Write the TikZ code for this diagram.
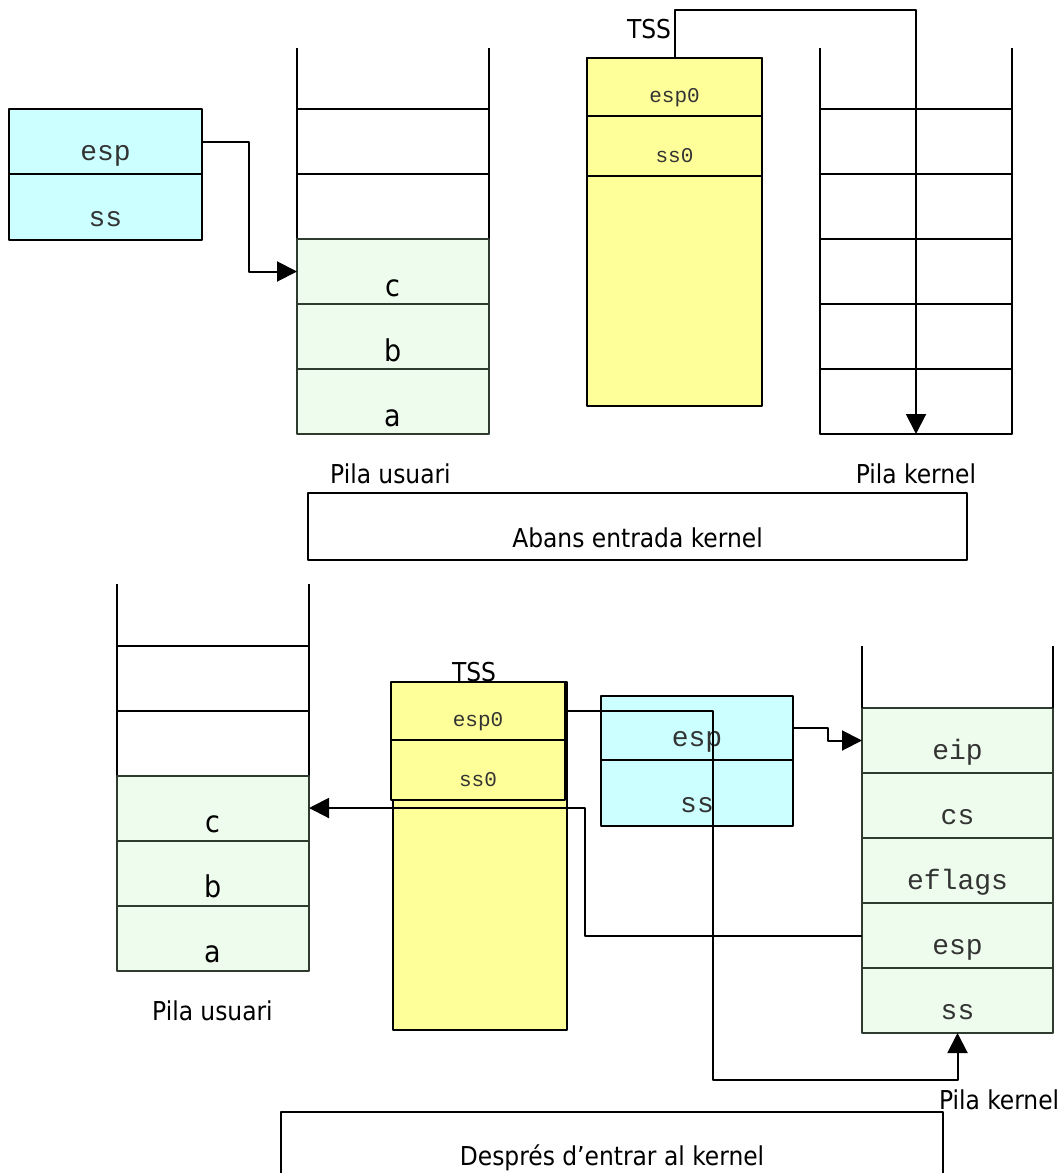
\documentclass[tikz,border=0pt]{standalone}
\usepackage{fontspec}
\setmainfont{DejaVu Sans Condensed}
\setmonofont{Liberation Mono}
\usetikzlibrary{arrows.meta}
\definecolor{regblue}{HTML}{CCFFFF}
\definecolor{tssyellow}{HTML}{FFFF99}
\definecolor{stackgreen}{HTML}{EDFCED}
\definecolor{greenline}{HTML}{2E3B2E}
\definecolor{monotext}{HTML}{333333}

\begin{document}
\begin{tikzpicture}[x=1pt,y=-1pt,line join=round,
	>={Triangle[length=20pt,width=20pt]},
	every node/.style={inner sep=0pt,outer sep=0pt},
	big/.style={font=\fontsize{30}{34}\selectfont},
	lbl/.style={font=\fontsize{26}{30}\selectfont},
	mono/.style={font=\fontsize{28}{32}\selectfont\ttfamily,text=monotext},
	small/.style={font=\fontsize{21}{24}\selectfont\ttfamily,text=monotext},
	cell/.style={draw,line width=2pt,minimum width=192pt,minimum height=65pt},
	ucell/.style={cell,fill=stackgreen,draw=greenline},
	reg/.style={cell,fill=regblue},
	tcell/.style={cell,fill=tssyellow,minimum width=174pt,minimum height=58pt},
	tall/.style={draw,line width=2pt,fill=tssyellow,minimum width=174pt,minimum height=348pt},
	frame/.style={draw,line width=2pt,minimum height=67pt},
	ltxt/.style={label={[anchor=base,yshift=8pt,big]south:#1}},
	mtxt/.style={label={[anchor=base,yshift=14pt,mono]south:#1}},
	stxt/.style={label={[anchor=base,yshift=14pt,small]south:#1}},
	wire/.style={line width=2pt},
	conn/.style={wire,->}]
	\useasboundingbox (0,0) rectangle (1062,1173);
	% abans entrada kernel
	\node[reg,minimum width=193pt,mtxt=esp] (uesp) at (105.5,141.5) {};
	\node[reg,minimum width=193pt,minimum height=66pt,mtxt=ss] (uss) at (105.5,207) {};
	\node[cell] (ue1) at (393,141.5) {};
	\node[cell] (ue2) at (393,206.5) {};
	\node[ucell,ltxt=c] (uc) at (393,271.5) {};
	\node[ucell,ltxt=b] (ub) at (393,336.5) {};
	\node[ucell,ltxt=a] (ua) at (393,401.5) {};
	\draw[wire] (ue1.north west) -- ++(0,-61) (ue1.north east) -- ++(0,-61);
	\node[tall,minimum width=175pt] (tss) at (674.5,232) {};
	\node[tcell,minimum width=175pt,stxt=esp0] (tesp) at (674.5,87) {};
	\node[tcell,minimum width=175pt,minimum height=60pt,stxt=ss0] (tss0) at (674.5,146) {};
	\node[lbl,anchor=base east] (tsslab) at (671,38) {TSS};
	\node[cell] (k1) at (916,141.5) {};
	\node[cell] (k2) at (916,206.5) {};
	\node[cell] (k3) at (916,271.5) {};
	\node[cell] (k4) at (916,336.5) {};
	\node[cell] (k5) at (916,401.5) {};
	\draw[wire] (k1.north west) -- ++(0,-61) (k1.north east) -- ++(0,-61);
	\draw[conn] (uesp.east) -- ++(47,0) |- (uc.west);
	\draw[conn] (tss.north) -- ++(0,-48) -| (k5.south);
	\node[lbl,anchor=base] (upila) at (390.5,483) {Pila usuari};
	\node[lbl,anchor=base] (kpila) at (916,483) {Pila kernel};
	\node[frame,minimum width=659pt,label={[anchor=base,yshift=13pt,lbl]south:Abans entrada kernel}] (abans) at (637.5,526.5) {};
	% despres d'entrar al kernel
	\node[cell] (ve1) at (213,678) {};
	\node[cell] (ve2) at (213,743) {};
	\node[ucell,ltxt=c] (vc) at (213,808) {};
	\node[ucell,ltxt=b] (vb) at (213,873) {};
	\node[ucell,ltxt=a] (va) at (213,938) {};
	\draw[wire] (ve1.north west) -- ++(0,-62) (ve1.north east) -- ++(0,-62);
	\node[tall] (vtss) at (480,856) {};
	\node[tcell,stxt=esp0] (vtesp) at (478,711) {};
	\node[tcell,minimum height=60pt,stxt=ss0] (vtss0) at (478,770) {};
	\node[lbl,anchor=base] (vtsslab) at (474,681) {TSS};
	\node[reg,minimum height=64pt,mtxt=esp] (vesp) at (697,728) {};
	\node[reg,minimum height=66pt,mtxt=ss] (vss) at (697,793) {};
	\node[ucell,minimum width=191pt,mtxt=eip] (keip) at (957.5,740.5) {};
	\node[ucell,minimum width=191pt,mtxt=cs] (kcs) at (957.5,805.5) {};
	\node[ucell,minimum width=191pt,mtxt=eflags] (kefl) at (957.5,870.5) {};
	\node[ucell,minimum width=191pt,mtxt=esp] (kesp) at (957.5,935.5) {};
	\node[ucell,minimum width=191pt,mtxt=ss] (kss) at (957.5,1000.5) {};
	\draw[wire] (keip.north west) -- ++(0,-62) (keip.north east) -- ++(0,-62);
	\coordinate (turn) at (713,1080);
	\draw[conn] (vesp.east) -- ++(35,0) |- (keip.west);
	\draw[conn] (kesp.west) -- ++(-277,0) |- (vc.east);
	\draw[conn] (vtesp.east) -| (turn) -| (kss.south);
	\node[lbl,anchor=base] (vupila) at (212.5,1020) {Pila usuari};
	\node[lbl,anchor=base west] (vkpila) at (939,1109) {Pila kernel};
	\node[frame,minimum width=662pt,label={[anchor=base,yshift=14pt,lbl]south:Després d’entrar al kernel}] (despres) at (612,1145.5) {};
\end{tikzpicture}
\end{document}
